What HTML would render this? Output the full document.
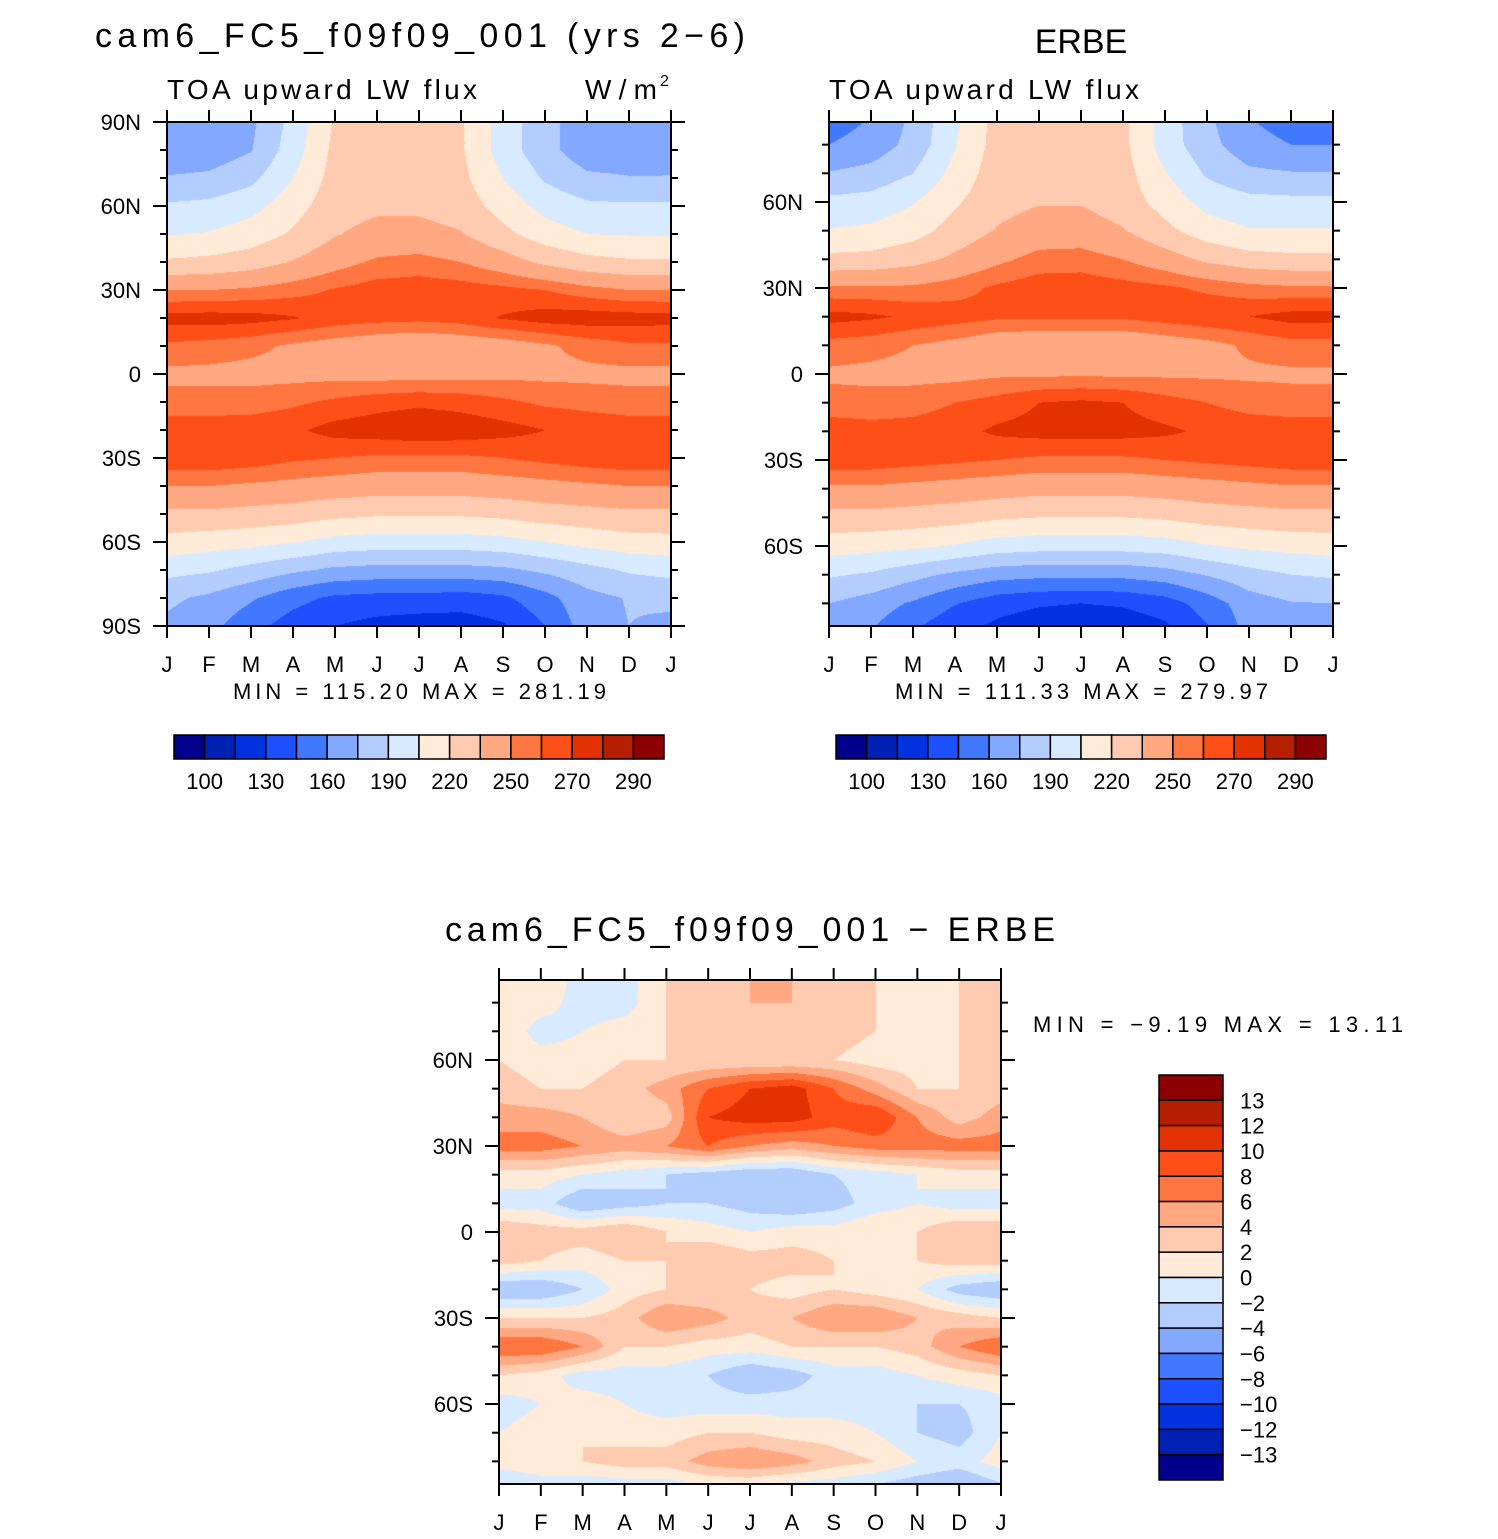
<!DOCTYPE html>
<html><head><meta charset="utf-8"><style>
body{margin:0;background:#fff;width:1498px;height:1539px;position:relative;overflow:hidden}
canvas{position:absolute}
svg{position:absolute;left:0;top:0}
text{font-family:"Liberation Sans",sans-serif;fill:#000}
</style></head><body>
<canvas id="c1" width="504" height="504" style="left:167px;top:122px"></canvas>
<canvas id="c2" width="504" height="504" style="left:829px;top:122px"></canvas>
<canvas id="c3" width="502" height="504" style="left:499px;top:980px"></canvas>
<svg id="s" width="1498" height="1539"></svg>
<script>
const months=["J","F","M","A","M","J","J","A","S","O","N","D","J"];
const lats=[90,80,70,60,50,40,30,20,10,0,-10,-20,-30,-40,-50,-60,-70,-80,-90];
const fluxLevels=[100,115,130,145,160,175,190,205,220,235,250,260,270,280,290];
const fluxTicks=["100","130","160","190","220","250","270","290"];
const diffLevels=[-13,-12,-10,-8,-6,-4,-2,0,2,4,6,8,10,12,13];
const diffTicks=["13","12","10","8","6","4","2","0","−2","−4","−6","−8","−10","−12","−13"];
const colors=["#00008c","#0020b4","#0032e0","#1e50ff","#4078ff","#82a8ff","#b4cdff","#d7eaff","#ffebd7","#ffcbb0","#ffa882","#ff7641","#ff4f19","#e33200","#b51f00","#8b0000"];
const model=[
[165,166,172,195,222,228,228,222,198,180,166,164],
[165,166,174,198,224,228,228,222,198,180,166,164],
[176,178,186,205,226,230,230,224,205,188,178,176],
[192,194,200,214,229,232,232,228,214,200,193,192],
[204,206,212,222,234,240,240,236,224,212,205,204],
[222,224,228,236,245,252,254,250,242,232,225,222],
[250,250,252,256,261,265,266,265,263,260,254,250],
[274,275,274,271,266,264,263,265,271,275,276,275],
[258,256,253,248,244,240,238,240,243,248,254,258],
[247,247,246,246,246,245,245,246,247,247,247,247],
[254,254,255,258,262,266,268,266,262,258,256,254],
[266,266,266,268,274,276,278,277,274,270,268,266],
[268,268,266,262,260,258,258,258,260,263,266,268],
[250,250,248,246,244,242,242,242,244,246,248,250],
[232,232,230,228,224,222,222,222,224,228,230,232],
[215,212,210,206,200,198,198,198,200,205,210,214],
[195,192,185,178,172,170,170,170,172,178,185,192],
[178,172,162,150,142,140,140,138,142,155,170,176],
[172,165,150,138,130,125,122,122,128,145,168,175]];
const erbe=[
[152,160,178,202,225,230,230,224,198,178,160,152],
[160,166,180,204,226,230,230,224,198,180,166,160],
[176,180,190,210,228,232,232,226,206,188,178,176],
[194,196,204,218,230,234,234,228,214,200,195,194],
[206,208,214,226,236,242,242,236,224,212,206,206],
[224,225,230,238,247,254,255,250,242,232,226,224],
[252,252,252,256,262,266,266,264,262,258,254,252],
[274,272,268,265,262,262,262,262,265,268,270,274],
[256,254,250,246,240,238,238,238,242,246,252,256],
[248,247,246,246,248,248,248,248,248,248,248,248],
[254,254,256,260,264,270,272,270,264,260,256,254],
[266,264,264,266,272,274,274,274,272,268,266,266],
[266,266,264,262,260,258,258,258,260,262,264,266],
[248,248,246,244,242,240,240,240,242,244,246,248],
[230,230,228,226,222,220,220,220,222,226,228,230],
[212,210,208,204,198,196,196,196,198,204,208,210],
[192,188,180,172,166,164,164,164,168,176,184,190],
[175,168,158,146,136,132,130,132,138,152,168,174],
[170,160,145,132,125,118,115,118,125,142,165,172]];
const diff=[
[2,2,-1,-1,2,3,4,4,3,2,2,2],
[2,1,-1,-1,2,3,4,4,4,2,1,2],
[2,-1,0,1,2,3,3,3,3,2,1,2],
[2,1,1,2,2,2,2,2,2,1,1,2],
[3,2,2,3,5,8,10,11,8,5,2,2],
[5,5,4,2,3,10,11,11,9,10,6,3],
[7,7,6,5,6,8,6,5,6,7,7,7],
[1,1,0,-1,-2,-3,-4,-4,-2,-1,0,1],
[-1,-1,-4,-3,-2,-2,-3,-4,-3,-1,0,-1],
[4,3,3,4,2,1,0,1,1,2,2,4],
[3,2,1,2,2,4,3,3,2,1,2,3],
[-4,-4,-2,1,2,2,2,1,2,1,0,-3],
[2,2,2,3,6,5,3,4,6,6,4,3],
[8,8,6,2,2,1,1,2,2,2,3,6],
[2,1,-1,-1,-1,-2,-4,-3,-1,-1,0,1],
[-1,0,1,0,-1,-1,-1,-1,-1,-1,-2,-2],
[0,1,2,1,1,2,2,1,1,0,-2,-3],
[1,2,2,3,3,5,6,5,3,2,0,-1],
[-3,-2,-2,-2,-2,-1,-1,-2,-2,-3,-4,-5]];

function hex(c){return [parseInt(c.substr(1,2),16),parseInt(c.substr(3,2),16),parseInt(c.substr(5,2),16)];}
const rgb=colors.map(hex);
function draw(id,data,levels,ppd){
  const cv=document.getElementById(id),ctx=cv.getContext('2d');
  const W=cv.width,H=cv.height,img=ctx.createImageData(W,H);
  const cy=H/2;
  for(let py=0;py<H;py++){
    let lat=(cy-py-0.5)/ppd; lat=Math.max(-90,Math.min(90,lat));
    let r=(90-lat)/10, r0=Math.min(17,Math.floor(r)), fr=r-r0;
    for(let px=0;px<W;px++){
      let m=(px+0.5)/W*12, m0=Math.min(11,Math.floor(m)), fm=m-m0, m1=(m0+1)%12;
      const a=data[r0][m0],b=data[r0][m1],c=data[r0+1][m0],d=data[r0+1][m1];
      const v=(a*(1-fm)+b*fm)*(1-fr)+(c*(1-fm)+d*fm)*fr;
      let k=0; while(k<levels.length&&v>=levels[k])k++;
      const col=rgb[k],i=(py*W+px)*4;
      img.data[i]=col[0];img.data[i+1]=col[1];img.data[i+2]=col[2];img.data[i+3]=255;
    }
  }
  ctx.putImageData(img,0,0);
}
draw('c1',model,fluxLevels,2.8);
draw('c2',erbe,fluxLevels,2.867);
draw('c3',diff,diffLevels,2.867);

const S=document.getElementById('s'),NS='http://www.w3.org/2000/svg';
function el(tag,attrs,txt){const e=document.createElementNS(NS,tag);for(const k in attrs)e.setAttribute(k,attrs[k]);if(txt!==undefined)e.textContent=txt;S.appendChild(e);return e;}
function txt(x,y,s,size,anchor,len,name){const a={x:x,y:y,'font-size':size,'text-anchor':anchor||'start'};if(len){a.textLength=len;a.lengthAdjust='spacing';}const t=el('text',a,s);

return t;}
function axes(x0,y0,w,h,ppd,latLabels,prefix){
  const r=el('rect',{x:x0,y:y0,width:w,height:h,fill:'none',stroke:'#000','stroke-width':2});
  
  
  const cy=y0+h/2;
  for(let i=0;i<13;i++){
    const x=x0+i*w/12;
    el('line',{x1:x,x2:x,y1:y0,y2:y0-12,stroke:'#000','stroke-width':2});
    el('line',{x1:x,x2:x,y1:y0+h,y2:y0+h+12,stroke:'#000','stroke-width':2});
    txt(x,y0+h+46,months[i],22,'middle',null,prefix+'-month-label');
  }
  for(let lat=-90;lat<=90;lat+=10){
    const y=cy-lat*ppd; if(y<y0-0.5||y>y0+h+0.5)continue;
    const L=lat%30===0?14:7;
    el('line',{x1:x0,x2:x0-L,y1:y,y2:y,stroke:'#000','stroke-width':2});
    el('line',{x1:x0+w,x2:x0+w+L,y1:y,y2:y,stroke:'#000','stroke-width':2});
  }
  latLabels.forEach(l=>{const y=cy-l*ppd;const s=l===0?'0':(Math.abs(l)+(l>0?'N':'S'));txt(x0-26,y+8,s,22,'end',null,prefix+'-lat-label');});
}
axes(167,122,504,504,2.8,[90,60,30,0,-30,-60,-90],'model');
axes(829,122,504,504,2.867,[60,30,0,-30,-60],'erbe');
axes(499,980,502,504,2.867,[60,30,0,-30,-60],'diff');

txt(95,47,"cam6_FC5_f09f09_001 (yrs 2−6)",34,'start',650,'model-title');
txt(1081,53,"ERBE",34,'middle',null,'erbe-title');
txt(167,99,"TOA upward LW flux",28,'start',310,'model-subtitle');
txt(585,99,"W/m",28,'start',72,'units-label');
txt(660,86,"2",16,'start',null,'units-exponent');
txt(829,99,"TOA upward LW flux",28,'start',310,'erbe-subtitle');
txt(233,699,"MIN = 115.20 MAX = 281.19",22,'start',373,'model-min-max');
txt(895,699,"MIN = 111.33 MAX = 279.97",22,'start',373,'erbe-min-max');
txt(445,941,"cam6_FC5_f09f09_001 − ERBE",34,'start',610,'diff-title');
txt(1033,1032,"MIN =   −9.19 MAX =   13.11",22,'start',370,'diff-min-max');

function hbar(x0,prefix){
  const bw=490/16;
  for(let i=0;i<16;i++){const r=el('rect',{x:x0+i*bw,y:735,width:bw,height:24,fill:colors[i],stroke:'#000','stroke-width':1.5});
  
  }
  fluxTicks.forEach((t,j)=>txt(x0+(2*j+1)*bw,789,t,22,'middle',null,prefix+'-colorbar-label'));
}
hbar(174,'model');hbar(836,'erbe');
const vh=405/16;
for(let i=0;i<16;i++){const r=el('rect',{x:1159,y:1075+i*vh,width:64,height:vh,fill:colors[15-i],stroke:'#000','stroke-width':1.5});

}
diffTicks.forEach((t,j)=>txt(1240,1075+(j+1)*vh+8,t,22,'start',null,'diff-colorbar-label'));
</script>
</body></html>
